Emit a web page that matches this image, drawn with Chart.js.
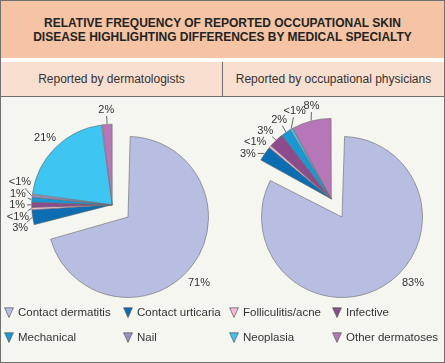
<!DOCTYPE html>
<html>
<head>
<meta charset="utf-8">
<script src="https://cdn.jsdelivr.net/npm/chart.js@4.4.1/dist/chart.umd.min.js"></script>
<style>
  body { margin: 0; background: #fff; font-family: "Liberation Sans", Arial, sans-serif; }
  #frame { position: relative; width: 445px; height: 363px; box-sizing: border-box; border: 1px solid #707070; background: #f6f6f1; overflow: hidden; }
  #title { position: absolute; left: 0; top: 0; width: 443px; height: 57px; box-sizing: border-box; padding-top: 15px; background: #f5c4a4; text-align: center; font-weight: bold; font-size: 12px; line-height: 14px; color: #222; }
  #gap { position: absolute; left: 0; top: 57px; width: 443px; height: 4px; background: #fff; }
  #sub { position: absolute; left: 0; top: 61px; width: 443px; height: 35px; box-sizing: border-box; background: #f9dfcf; border-bottom: 1px solid #707070; font-size: 12px; color: #333; }
  #sub div { position: absolute; top: 0; height: 34px; line-height: 34px; text-align: center; }
  .box { position: absolute; top: 96px; }
  #legend { position: absolute; left: 3px; top: 304px; display: grid; grid-template-columns: 119px 106px 103px 108px; row-gap: 11px; font-size: 11.5px; color: #333; line-height: 14px; }
  #legend span { display: flex; align-items: center; white-space: nowrap; }
  #legend svg { margin-right: 4px; }
</style>
</head>
<body>
<div id="frame">
  <div id="title">RELATIVE FREQUENCY OF REPORTED OCCUPATIONAL SKIN<br>DISEASE HIGHLIGHTING DIFFERENCES BY MEDICAL SPECIALTY</div>
  <div id="gap"></div>
  <div id="sub"></div>
  <div class="box" style="left:0"><canvas id="pieLeft" width="221" height="210"></canvas></div>
  <div class="box" style="left:222px"><canvas id="pieRight" width="221" height="210"></canvas></div>
  <div id="legend"></div>
</div>
<script>
// data
const categories = ['Contact dermatitis', 'Contact urticaria', 'Folliculitis/acne', 'Infective',
                    'Mechanical', 'Nail', 'Neoplasia', 'Other dermatoses'];
const colors = ['#b7bee2', '#0c6db3', '#f3bad6', '#8b4b8d', '#1699d5', '#9d8cc6', '#3ec5f1', '#b676b7'];
const dermatologists = [71, 3, 0.5, 1, 1, 0.5, 21, 2];
const occupational = [83, 3, 0.5, 3, 2, 0, 0.5, 8];
const panelTitles = ['Reported by dermatologists', 'Reported by occupational physicians'];

function pct(v) {
  return v < 1 ? '<1%' : v + '%';
}

// headers
let sub = document.getElementById('sub');
panelTitles.forEach(function (t, i) {
  let d = document.createElement('div');
  d.textContent = t;
  d.style.left = (i * 222) + 'px';
  d.style.width = '221px';
  if (!i) d.style.borderRight = '1px solid #707070';
  sub.appendChild(d);
});

// legend with downward triangles
let legend = document.getElementById('legend');
categories.forEach(function (c, i) {
  let s = document.createElement('span');
  s.innerHTML = '<svg width="10" height="11"><polygon points="0.6,0.8 9.4,0.8 5,10.5" fill="' + colors[i] +
    '" stroke="#555" stroke-width="0.7"/></svg>';
  s.appendChild(document.createTextNode(c));
  legend.appendChild(s);
});

// move all the minor slices out together, along the middle of their span
const explodeGroup = {
  id: 'explodeGroup',
  afterDatasetsUpdate(chart, args, opts) {
    let arcs = chart.getDatasetMeta(0).data;
    let mid = (arcs[1].startAngle + arcs[arcs.length - 1].endAngle) / 2;
    let dx = Math.cos(mid) * opts.distance, dy = Math.sin(mid) * opts.distance;
    for (let i = 1; i < arcs.length; i++) {
      arcs[i].x += dx;
      arcs[i].y += dy;
    }
  }
};

const sliceLabels = {
  id: 'sliceLabels',
  afterDatasetsDraw(chart, args, opts) {
    let ctx = chart.ctx;
    let values = chart.data.datasets[0].data;
    let arcs = chart.getDatasetMeta(0).data;
    ctx.save();
    ctx.font = '11px "Liberation Sans", Arial, sans-serif';
    ctx.fillStyle = '#333';
    ctx.strokeStyle = '#444';
    ctx.lineWidth = 0.8;
    ctx.textAlign = 'center';
    ctx.textBaseline = 'middle';

    let m = arcs[0];
    let ma = opts.mainAngle * Math.PI / 180;
    ctx.fillText(pct(values[0]), m.x + Math.cos(ma) * (m.outerRadius + 17), m.y + Math.sin(ma) * (m.outerRadius + 17));

    let items = [];
    for (let i = 1; i < arcs.length; i++) {
      if (!values[i]) continue;
      let a = arcs[i];
      let mid = (a.startAngle + a.endAngle) / 2;
      items.push({ a: a, mid: mid, ang: mid, text: pct(values[i]), big: values[i] >= 10 });
    }
    let R = arcs[1].outerRadius + opts.gap;
    // push neighbouring labels apart
    for (let it = 0; it < 200; it++) {
      for (let k = 0; k < items.length - 1; k++) {
        let p = items[k], q = items[k + 1];
        let c = Math.max(Math.abs(Math.cos((p.ang + q.ang) / 2)), 0.65);
        let need = 11.5 / c / R;
        let d = q.ang - p.ang;
        if (d < need) {
          let s = (need - d) / 2;
          p.ang -= s;
          q.ang += s;
        }
      }
    }
    items.forEach(function (o) {
      let cx = o.a.x, cy = o.a.y, r = o.a.outerRadius;
      let lx = cx + Math.cos(o.ang) * R, ly = cy + Math.sin(o.ang) * R;
      ctx.fillText(o.text, lx, ly);
      if (o.big) return;
      let ax = cx + Math.cos(o.mid) * (r + 1), ay = cy + Math.sin(o.mid) * (r + 1);
      let w = ctx.measureText(o.text).width / 2 + 2, h = 6;
      let dx = ax - lx, dy = ay - ly;
      let len = Math.hypot(dx, dy);
      dx /= len; dy /= len;
      let t = Math.min(w / Math.max(Math.abs(dx), 1e-6), h / Math.max(Math.abs(dy), 1e-6));
      if (len > t + 1.5) {
        ctx.beginPath();
        ctx.moveTo(lx + dx * t, ly + dy * t);
        ctx.lineTo(ax, ay);
        ctx.stroke();
      }
    });
    ctx.restore();
  }
};

function makePie(id, values, padLeft, dist) {
  return new Chart(document.getElementById(id), {
    type: 'pie',
    data: {
      labels: categories,
      datasets: [{
        data: values,
        backgroundColor: colors,
        borderColor: '#666',
        borderWidth: 0.6,
        spacing: 1,
        radius: 80
      }]
    },
    options: {
      responsive: false,
      animation: false,
      layout: { padding: { left: padLeft, top: 30, right: 0, bottom: 0 } },
      plugins: {
        legend: { display: false },
        tooltip: { enabled: false },
        explodeGroup: { distance: dist },
        sliceLabels: { mainAngle: 43, gap: 15 }
      }
    },
    plugins: [explodeGroup, sliceLabels]
  });
}

makePie('pieLeft', dermatologists, 33, 20);
makePie('pieRight', occupational, 17, 21);
</script>
</body>
</html>
